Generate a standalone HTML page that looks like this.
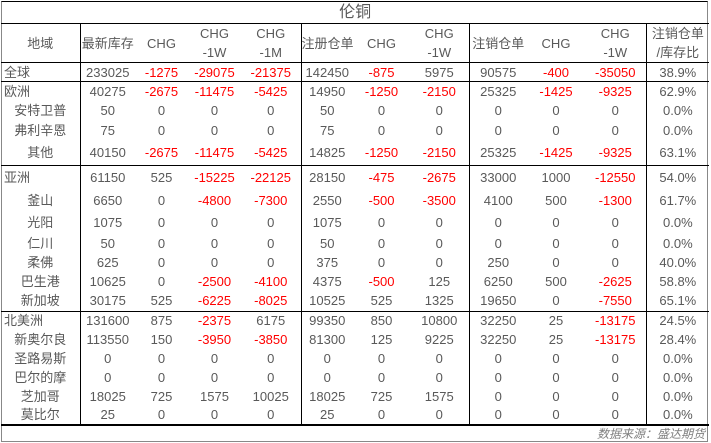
<!DOCTYPE html>
<html><head><meta charset="utf-8">
<style>
html,body{margin:0;padding:0;background:#fff;}
body{width:711px;height:443px;position:relative;overflow:hidden;font-family:"Liberation Sans","Noto Sans CJK SC",sans-serif;color:#595959;font-size:13px;}
#wrap{position:absolute;left:1px;top:1px;width:707px;height:441px;border:1px solid #888;border-top:1px solid #000;box-sizing:border-box;}
table{position:absolute;left:1px;top:1px;border-collapse:collapse;table-layout:fixed;width:708px;}
td{padding:0;text-align:center;white-space:nowrap;line-height:15px;overflow:hidden;}
.v{border-right:1px solid #000;}
.t td{border-top:1px solid #000;}
.r{color:#ff0000;}
.l{text-align:left;padding-left:3px;}
.title td{font-size:16px;height:22px;border-bottom:1px solid #000;}
.hd td{height:37px;line-height:19px;}
#foot{position:absolute;right:6px;top:425px;font-style:italic;font-size:12px;color:#7f7f7f;}
</style></head><body>
<div id="wrap"></div>
<table>
<colgroup><col style="width:79px"><col style="width:55px"><col style="width:53px"><col style="width:53px"><col style="width:60px"><col style="width:52px"><col style="width:57px"><col style="width:59px"><col style="width:58px"><col style="width:58px"><col style="width:61px"><col style="width:63px"></colgroup>
<tr class="title"><td colspan="12">伦铜</td></tr>
<tr class="hd"><td class="v">地域</td><td>最新库存</td><td>CHG</td><td>CHG<br>-1W</td><td class="v">CHG<br>-1M</td><td>注册仓单</td><td>CHG</td><td class="v">CHG<br>-1W</td><td>注销仓单</td><td>CHG</td><td class="v">CHG<br>-1W</td><td>注销仓单<br>/库存比</td></tr>
<tr class="t" style="height:19px"><td class="v l">全球</td><td>233025</td><td class="r">-1275</td><td class="r">-29075</td><td class="r v">-21375</td><td>142450</td><td class="r">-875</td><td class="v">5975</td><td>90575</td><td class="r">-400</td><td class="r v">-35050</td><td>38.9%</td></tr>
<tr class="t" style="height:19px"><td class="v l">欧洲</td><td>40275</td><td class="r">-2675</td><td class="r">-11475</td><td class="r v">-5425</td><td>14950</td><td class="r">-1250</td><td class="r v">-2150</td><td>25325</td><td class="r">-1425</td><td class="r v">-9325</td><td>62.9%</td></tr>
<tr style="height:20px"><td class="v">安特卫普</td><td>50</td><td>0</td><td>0</td><td class="v">0</td><td>50</td><td>0</td><td class="v">0</td><td>0</td><td>0</td><td class="v">0</td><td>0.0%</td></tr>
<tr style="height:20px"><td class="v">弗利辛恩</td><td>75</td><td>0</td><td>0</td><td class="v">0</td><td>75</td><td>0</td><td class="v">0</td><td>0</td><td>0</td><td class="v">0</td><td>0.0%</td></tr>
<tr style="height:25px"><td class="v">其他</td><td>40150</td><td class="r">-2675</td><td class="r">-11475</td><td class="r v">-5425</td><td>14825</td><td class="r">-1250</td><td class="r v">-2150</td><td>25325</td><td class="r">-1425</td><td class="r v">-9325</td><td>63.1%</td></tr>
<tr class="t" style="height:23px"><td class="v l">亚洲</td><td>61150</td><td>525</td><td class="r">-15225</td><td class="r v">-22125</td><td>28150</td><td class="r">-475</td><td class="r v">-2675</td><td>33000</td><td>1000</td><td class="r v">-12550</td><td>54.0%</td></tr>
<tr style="height:23px"><td class="v">釜山</td><td>6650</td><td>0</td><td class="r">-4800</td><td class="r v">-7300</td><td>2550</td><td class="r">-500</td><td class="r v">-3500</td><td>4100</td><td>500</td><td class="r v">-1300</td><td>61.7%</td></tr>
<tr style="height:22px"><td class="v">光阳</td><td>1075</td><td>0</td><td>0</td><td class="v">0</td><td>1075</td><td>0</td><td class="v">0</td><td>0</td><td>0</td><td class="v">0</td><td>0.0%</td></tr>
<tr style="height:19px"><td class="v">仁川</td><td>50</td><td>0</td><td>0</td><td class="v">0</td><td>50</td><td>0</td><td class="v">0</td><td>0</td><td>0</td><td class="v">0</td><td>0.0%</td></tr>
<tr style="height:19px"><td class="v">柔佛</td><td>625</td><td>0</td><td>0</td><td class="v">0</td><td>375</td><td>0</td><td class="v">0</td><td>250</td><td>0</td><td class="v">0</td><td>40.0%</td></tr>
<tr style="height:19px"><td class="v">巴生港</td><td>10625</td><td>0</td><td class="r">-2500</td><td class="r v">-4100</td><td>4375</td><td class="r">-500</td><td class="v">125</td><td>6250</td><td>500</td><td class="r v">-2625</td><td>58.8%</td></tr>
<tr style="height:21px"><td class="v">新加坡</td><td>30175</td><td>525</td><td class="r">-6225</td><td class="r v">-8025</td><td>10525</td><td>525</td><td class="v">1325</td><td>19650</td><td>0</td><td class="r v">-7550</td><td>65.1%</td></tr>
<tr class="t" style="height:18px"><td class="v l">北美洲</td><td>131600</td><td>875</td><td class="r">-2375</td><td class="v">6175</td><td>99350</td><td>850</td><td class="v">10800</td><td>32250</td><td>25</td><td class="r v">-13175</td><td>24.5%</td></tr>
<tr style="height:19px"><td class="v">新奥尔良</td><td>113550</td><td>150</td><td class="r">-3950</td><td class="r v">-3850</td><td>81300</td><td>125</td><td class="v">9225</td><td>32250</td><td>25</td><td class="r v">-13175</td><td>28.4%</td></tr>
<tr style="height:19px"><td class="v">圣路易斯</td><td>0</td><td>0</td><td>0</td><td class="v">0</td><td>0</td><td>0</td><td class="v">0</td><td>0</td><td>0</td><td class="v">0</td><td>0.0%</td></tr>
<tr style="height:19px"><td class="v">巴尔的摩</td><td>0</td><td>0</td><td>0</td><td class="v">0</td><td>0</td><td>0</td><td class="v">0</td><td>0</td><td>0</td><td class="v">0</td><td>0.0%</td></tr>
<tr style="height:19px"><td class="v">芝加哥</td><td>18025</td><td>725</td><td>1575</td><td class="v">10025</td><td>18025</td><td>725</td><td class="v">1575</td><td>0</td><td>0</td><td class="v">0</td><td>0.0%</td></tr>
<tr style="height:19px;border-bottom:2px solid #000"><td class="v">莫比尔</td><td>25</td><td>0</td><td>0</td><td class="v">0</td><td>25</td><td>0</td><td class="v">0</td><td>0</td><td>0</td><td class="v">0</td><td>0.0%</td></tr>
</table>
<div id="foot">数据来源：盛达期货</div>
</body></html>
